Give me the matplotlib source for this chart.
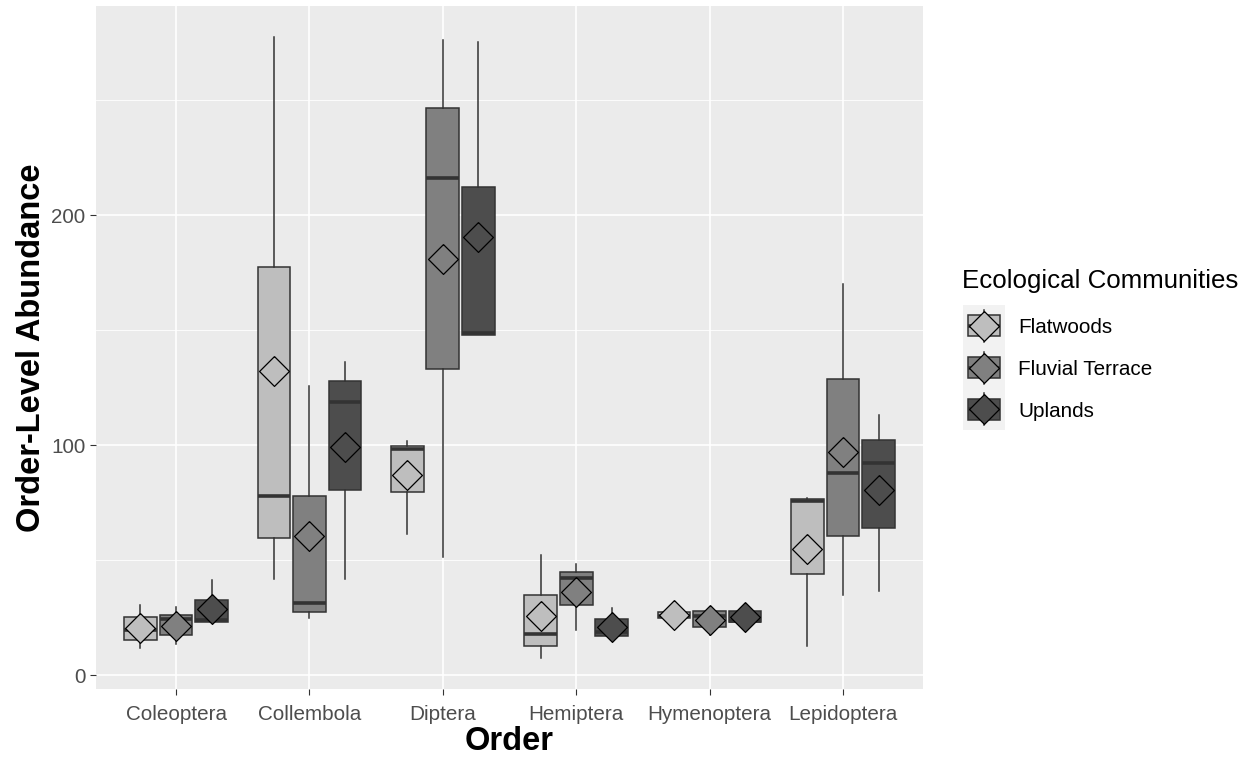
import matplotlib
matplotlib.use("Agg")
import matplotlib.pyplot as plt
from matplotlib.patches import Rectangle
import numpy as np

plt.rcParams['font.family'] = ['Liberation Sans', 'DejaVu Sans']

# ------------------------------------------------------------------
# summary data per order: (whisker low, q1, median, q3, whisker high)
# ------------------------------------------------------------------
orders = ['Coleoptera', 'Collembola', 'Diptera', 'Hemiptera', 'Hymenoptera', 'Lepidoptera']
communities = ['Flatwoods', 'Fluvial Terrace', 'Uplands']
fills = ['#BEBEBE', '#808080', '#4D4D4D']

flatwoods_box = [(11.7, 15.4, 19.6, 25.3, 30.4),
                 (41.7, 59.5, 77.8, 177.5, 277.5),
                 (61.1, 79.4, 98.1, 99.7, 101.6),
                 (7.3, 12.6, 17.7, 34.9, 52.2),
                 (24.4, 25.0, 25.6, 27.2, 27.8),
                 (12.6, 43.8, 75.7, 76.4, 77.1)]
flatwoods_mean = [20.3, 132.2, 86.9, 25.7, 26.3, 54.9]

fluvial_box = [(13.5, 17.4, 24.3, 26.1, 29.7),
               (24.7, 27.5, 31.2, 77.8, 125.5),
               (51.4, 133.2, 216.0, 246.4, 276.0),
               (19.5, 30.4, 42.0, 44.9, 48.3),
               (17.4, 21.0, 25.6, 27.9, 29.5),
               (34.6, 60.4, 87.7, 128.6, 169.9)]
fluvial_mean = [21.5, 60.3, 181.0, 36.3, 23.8, 97.1]

uplands_box = [(23.2, 23.2, 24.0, 32.6, 41.2),
               (41.7, 80.3, 118.8, 127.8, 136.2),
               (147.7, 147.7, 148.8, 212.3, 275.4),
               (17.0, 17.0, 18.5, 24.3, 29.1),
               (23.2, 23.2, 23.6, 28.0, 28.0),
               (36.5, 63.8, 92.2, 102.2, 113.0)]
uplands_mean = [28.9, 99.2, 190.5, 20.9, 25.1, 80.3]

all_boxes = [flatwoods_box, fluvial_box, uplands_box]
all_means = [flatwoods_mean, fluvial_mean, uplands_mean]

# ------------------------------------------------------------------
edge = '#333333'
diamond = [(0, 1), (1, 0), (0, -1), (-1, 0), (0, 1)]
dodge = 0.8 / 3
box_w = 0.245

fig = plt.figure(figsize=(12.47, 7.59), dpi=100)
ax = fig.add_axes([96 / 1247, 1 - 689.3 / 759, 827 / 1247, 683.6 / 759])
ax.set_facecolor('#EBEBEB')

x = np.arange(1, len(orders) + 1)
for k, (boxes, means, fc) in enumerate(zip(all_boxes, all_means, fills)):
    pos = x + (k - 1) * dodge
    stats = []
    for (lo, q1, med, q3, hi), m in zip(boxes, means):
        stats.append(dict(whislo=lo, q1=q1, med=med, q3=q3, whishi=hi,
                          mean=m, fliers=[]))
    ax.bxp(stats, positions=pos, widths=box_w, patch_artist=True,
           showfliers=False, showcaps=False, showmeans=False,
           boxprops=dict(facecolor=fc, edgecolor=edge, linewidth=1.1),
           medianprops=dict(color=edge, linewidth=2.6, solid_capstyle='butt'),
           whiskerprops=dict(color=edge, linewidth=1.1),
           manage_ticks=False, zorder=3)
    ax.plot(pos, means, linestyle='none', marker=diamond, markersize=21.5,
            markerfacecolor=fc, markeredgecolor='black', markeredgewidth=0.9,
            zorder=5)

# ggplot style scales
lows = [b[0] for bx in all_boxes for b in bx]
highs = [b[4] for bx in all_boxes for b in bx]
span = max(highs) - min(lows)
ax.set_ylim(min(lows) - 0.05 * span, max(highs) + 0.05 * span)
ax.set_xlim(0.4, len(orders) + 0.6)

ax.set_xticks(x)
ax.set_xticklabels(orders)
ax.set_yticks([0, 100, 200])
ax.set_yticks([50, 150, 250], minor=True)
ax.grid(which='major', color='white', linewidth=1.2, zorder=0)
ax.grid(which='minor', axis='y', color='white', linewidth=0.6, zorder=0)
ax.set_axisbelow(True)
for s in ax.spines.values():
    s.set_visible(False)
ax.tick_params(which='major', length=4.5, width=0.8, color=edge,
               labelcolor='#4D4D4D', labelsize=14.9, pad=3)
ax.tick_params(axis='x', which='major', pad=6.5)
ax.tick_params(which='minor', length=0)

ax.set_xlabel('Order', fontsize=23.5, fontweight='bold', labelpad=2)
ax.set_ylabel('Order-Level Abundance', fontsize=23.5, fontweight='bold', labelpad=3)

# legend drawn in pixel space to the right of the panel
lg = fig.add_axes([0, 0, 1, 1], facecolor='none')
lg.set_xlim(0, 1247)
lg.set_ylim(759, 0)
lg.axis('off')
lg.text(962, 281, 'Ecological Communities', fontsize=18.6, ha='left', va='center')
key_h = 41.7
for i, (name, fc) in enumerate(zip(communities, fills)):
    top = 305 + i * key_h
    cy = top + key_h / 2
    lg.add_patch(Rectangle((963, top), 42, key_h, facecolor='#F2F2F2',
                           edgecolor='none'))
    lg.plot([984, 984], [cy - 16, cy + 16], color=edge, lw=1.1)
    lg.add_patch(Rectangle((968, cy - 10.5), 32, 21, facecolor=fc,
                           edgecolor=edge, linewidth=1.1))
    lg.plot([968, 1000], [cy, cy], color=edge, lw=2.6, solid_capstyle='butt')
    lg.plot([984], [cy], marker=diamond, markersize=21.5, markerfacecolor=fc,
            markeredgecolor='black', markeredgewidth=0.9, linestyle='none')
    lg.text(1018, cy + 2, name, fontsize=14.9, ha='left', va='center')

fig.savefig('out.png', dpi=100)
